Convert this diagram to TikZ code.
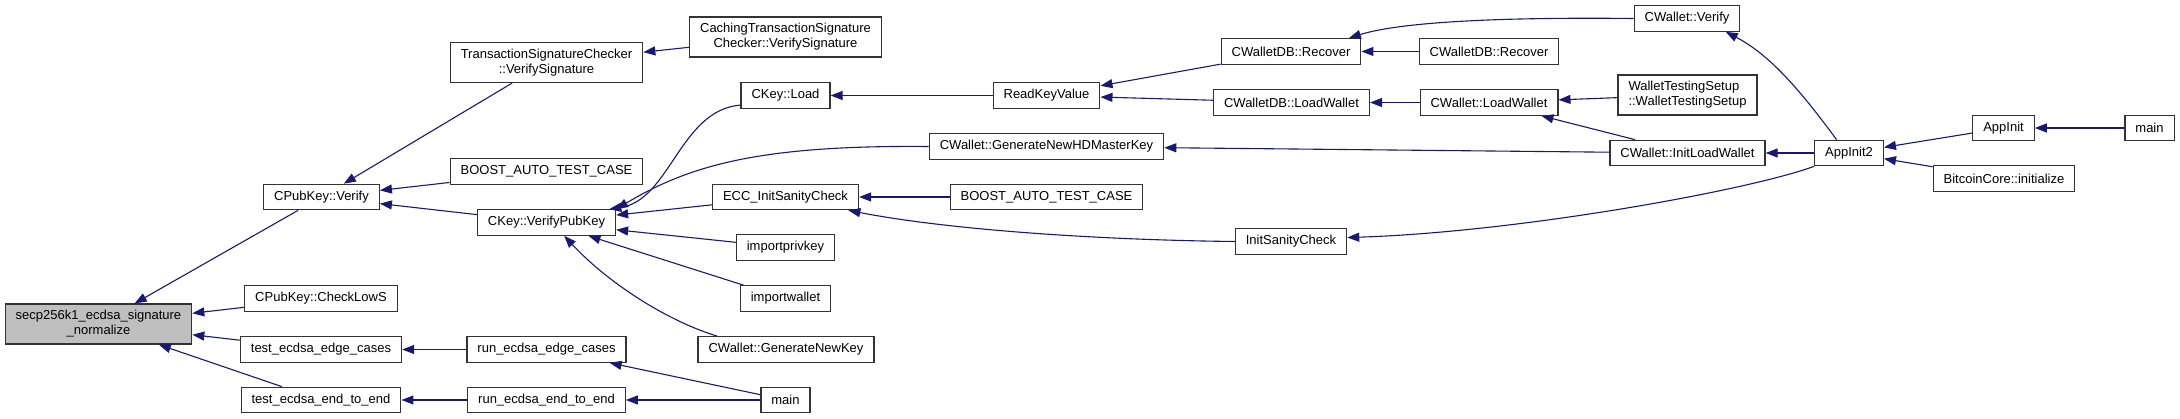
\documentclass[tikz,border=0pt]{standalone}
\usepackage{fontspec}
\setmainfont{Liberation Sans}
\usetikzlibrary{arrows.meta}
\definecolor{callblue}{HTML}{191970}
\definecolor{focusgray}{HTML}{BFBFBF}

\begin{document}
\begin{tikzpicture}[x=1pt, y=-1pt, >={Triangle[length=12pt, width=9pt]},
    fn/.style={draw=black!80, line width=1.2pt, fill=white, inner xsep=10.5pt,
               inner ysep=2pt, minimum height=25.5pt, align=center,
               font=\fontsize{13}{15}\selectfont},
    fntwo/.style={fn, minimum height=40pt},
    call/.style={->, draw=callblue, line width=1.1pt}]
  \useasboundingbox (0,0) rectangle (2180,419);

  % Function being called
  \node[fntwo, fill=focusgray] (secp) at (98.5,324) {secp256k1\_ecdsa\_signature\\\_normalize};

  % Direct callers
  \node[fn] (cpv)   at (321.5,197) {CPubKey::Verify};
  \node[fn] (lows)  at (321,298.5) {CPubKey::CheckLowS};
  \node[fn] (tedge) at (321,349.5) {test\_ecdsa\_edge\_cases};
  \node[fn] (te2e)  at (321,400)   {test\_ecdsa\_end\_to\_end};

  % Second column
  \node[fntwo] (tsc) at (546.5,62.5) {TransactionSignatureChecker\\::VerifySignature};
  \node[fn] (bat1)  at (546.5,171.5) {BOOST\_AUTO\_TEST\_CASE};
  \node[fn] (vpk)   at (546.5,222.5) {CKey::VerifyPubKey};
  \node[fn] (redge) at (546.5,349.5) {run\_ecdsa\_edge\_cases};
  \node[fn] (re2e)  at (546.5,400)   {run\_ecdsa\_end\_to\_end};

  % Third column
  \node[fntwo] (ctsc) at (785.5,37) {CachingTransactionSignature\\Checker::VerifySignature};
  \node[fn] (load)  at (785.5,95.5)  {CKey::Load};
  \node[fn] (ecc)   at (785.5,197)   {ECC\_InitSanityCheck};
  \node[fn] (ipk)   at (785.5,247.5) {importprivkey};
  \node[fn] (iw)    at (785.5,298.5) {importwallet};
  \node[fn] (gnk)   at (786,349.5)   {CWallet::GenerateNewKey};
  \node[fn] (mainA) at (785.5,400)   {main};

  % Wallet side
  \node[fn] (rkv)  at (1046.5,95.5)  {ReadKeyValue};
  \node[fn] (hd)   at (1046.5,146.5) {CWallet::GenerateNewHDMasterKey};
  \node[fn] (bat2) at (1046.5,197)   {BOOST\_AUTO\_TEST\_CASE};
  \node[fn] (rec1) at (1291,51.5)    {CWalletDB::Recover};
  \node[fn] (dblw) at (1291.5,102.5) {CWalletDB::LoadWallet};
  \node[fn] (isc)  at (1291,241.5)   {InitSanityCheck};
  \node[fn] (rec2) at (1489,51.5)    {CWalletDB::Recover};
  \node[fn] (lw)   at (1489,102.5)   {CWallet::LoadWallet};
  \node[fn] (ver)  at (1687,18.5)    {CWallet::Verify};
  \node[fntwo, align=left] (wts) at (1687.5,95) {WalletTestingSetup\\::WalletTestingSetup};
  \node[fn] (ilw)  at (1687.5,153)   {CWallet::InitLoadWallet};

  % Application start-up
  \node[fn] (ai2)   at (1849,153)   {AppInit2};
  \node[fn] (ai)    at (2003.5,128) {AppInit};
  \node[fn] (bci)   at (2004,178.5) {BitcoinCore::initialize};
  \node[fn] (mainB) at (2149.5,128) {main};

  % Calls, caller -> callee
  \draw[call] (cpv) -- (secp);
  \draw[call] (lows) -- (secp);
  \draw[call] (tedge) -- (secp);
  \draw[call] (te2e) -- (secp);
  \draw[call] (tsc) -- (cpv);
  \draw[call] (bat1) -- (cpv);
  \draw[call] (vpk) -- (cpv);
  \draw[call] (ctsc) -- (tsc);
  \draw[call] (load.192) .. controls (680,110) and (670,200) .. (vpk.12);
  \draw[call] (hd.west) .. controls (760,145) and (690,165) .. (vpk.north east);
  \draw[call] (ecc) -- (vpk);
  \draw[call] (ipk) -- (vpk);
  \draw[call] (iw) -- (vpk);
  \draw[call] (gnk.169) .. controls (670,322) and (610,285) .. (vpk.-37);
  \draw[call] (redge) -- (tedge);
  \draw[call] (re2e) -- (te2e);
  \draw[call] (mainA) -- (redge);
  \draw[call] (mainA) -- (re2e);
  \draw[call] (rkv) -- (load);
  \draw[call] (bat2) -- (ecc);
  \draw[call] (isc.west) .. controls (1100,240) and (950,230) .. (ecc.-12);
  \draw[call] (rec1) -- (rkv);
  \draw[call] (dblw) -- (rkv);
  \draw[call] (ilw) -- (hd);
  \draw[call] (rec2) -- (rec1);
  \draw[call] (ver.west) .. controls (1500,17) and (1400,22) .. (rec1.13);
  \draw[call] (lw) -- (dblw);
  \draw[call] (wts) -- (lw);
  \draw[call] (ilw) -- (lw);
  \draw[call] (ai2.south west) .. controls (1750,190) and (1520,232) .. (isc.4);
  \draw[call] (ai2.133) .. controls (1800,90) and (1770,55) .. (ver.-19);
  \draw[call] (ai2) -- (ilw);
  \draw[call] (ai) -- (ai2);
  \draw[call] (bci) -- (ai2);
  \draw[call] (mainB) -- (ai);
\end{tikzpicture}
\end{document}
